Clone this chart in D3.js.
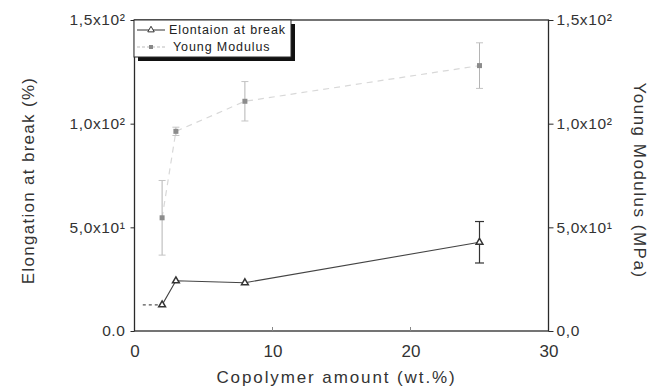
<!DOCTYPE html>
<html>
<head>
<meta charset="utf-8">
<script src="https://cdn.jsdelivr.net/npm/d3@7"></script>
<style>
  body { margin: 0; background: #fff; }
  svg { font-family: "Liberation Sans", Arial, sans-serif; }
</style>
</head>
<body>
<div id="chart"></div>
<script>
// data
var copolymer = [2, 3, 8, 25];
var elongation = [12.6, 24.2, 23.3, 42.8];
var elongationErr = [0, 0, 0, 10];
var modulus = [54.6, 96.3, 110.8, 128];
var modulusErr = [18, 2, 9.5, 11];
var elongStart = [0.6, 12.6];  // stub of line running in from the axis

var xTicks = [0, 10, 20, 30];
var yTicks = [0, 50, 100, 150];
var leftLabels = ["0.0", "5,0x10¹", "1,0x10²", "1,5x10²"];
var rightLabels = ["0,0", "5,0x10¹", "1,0x10²", "1,5x10²"];

var W = 661, H = 392;
var pL = 134.5, pR = 548.5, pT = 20, pB = 331;

var svg = d3.select('#chart').append('svg')
  .attr('width', W).attr('height', H);

var x = d3.scaleLinear().domain([0, 30]).range([pL, pR]);
var yL = d3.scaleLinear().domain([0, 150]).range([pB, pT]);
var yR = d3.scaleLinear().domain([0, 150]).range([pB, pT]);

var ink = '#2a2a2a';
var font = '"Liberation Sans", Arial, sans-serif';

// frame
svg.append('rect')
  .attr('x', pL).attr('y', pT)
  .attr('width', pR - pL).attr('height', pB - pT)
  .attr('fill', 'none').attr('stroke', ink).attr('stroke-width', 1.3);

// bottom axis
var xAxis = svg.append('g').attr('transform', 'translate(0,' + pB + ')')
  .call(d3.axisBottom(x).tickValues(xTicks).tickSize(0).tickPadding(14)
    .tickFormat(d3.format('d')));
xAxis.select('.domain').remove();
xAxis.selectAll('text').attr('font-size', 17).attr('fill', '#333')
  .attr('font-family', font);
svg.append('g').selectAll('line').data(xTicks.slice(1, 3)).enter().append('line')
  .attr('x1', function(d){ return x(d); }).attr('x2', function(d){ return x(d); })
  .attr('y1', pB).attr('y2', pB - 4)
  .attr('stroke', '#888').attr('stroke-width', 1);

// left axis
var yAxisL = svg.append('g').attr('transform', 'translate(' + pL + ',0)')
  .call(d3.axisLeft(yL).tickValues(yTicks).tickSize(4).tickPadding(5)
    .tickFormat(function(d, i){ return leftLabels[i]; }));
yAxisL.select('.domain').remove();
yAxisL.selectAll('line').attr('stroke', ink);
yAxisL.selectAll('text').attr('font-size', 15.5).attr('fill', '#333')
  .attr('letter-spacing', 0.6).attr('font-family', font);

// right axis
var yAxisR = svg.append('g').attr('transform', 'translate(' + pR + ',0)')
  .call(d3.axisRight(yR).tickValues(yTicks).tickSize(5).tickPadding(3)
    .tickFormat(function(d, i){ return rightLabels[i]; }));
yAxisR.select('.domain').remove();
yAxisR.selectAll('line').attr('stroke', ink);
yAxisR.selectAll('text').attr('font-size', 15.5).attr('fill', '#333')
  .attr('letter-spacing', 0.6).attr('font-family', font);

// axis titles
svg.append('text')
  .attr('transform', 'translate(34,' + ((pT + pB) / 2 + 5) + ') rotate(-90)')
  .attr('text-anchor', 'middle').attr('font-size', 17).attr('fill', '#333')
  .attr('letter-spacing', 1.3)
  .text('Elongation at break (%)');
svg.append('text')
  .attr('transform', 'translate(634,' + ((pT + pB) / 2 + 5) + ') rotate(90)')
  .attr('text-anchor', 'middle').attr('font-size', 17).attr('fill', '#333')
  .attr('letter-spacing', 1.5)
  .text('Young Modulus (MPa)');
svg.append('text')
  .attr('x', (pL + pR) / 2 - 5).attr('y', 383)
  .attr('text-anchor', 'middle').attr('font-size', 17).attr('fill', '#333')
  .attr('letter-spacing', 1.9)
  .text('Copolymer amount (wt.%)');

// Young modulus series (light grey)
var gray = '#b4b4b4';
var modPts = copolymer.map(function(c, i){ return [c, modulus[i], modulusErr[i]]; });
svg.append('path').datum(modPts)
  .attr('d', d3.line().x(function(d){ return x(d[0]); }).y(function(d){ return yR(d[1]); }))
  .attr('fill', 'none').attr('stroke', '#d8d8d8').attr('stroke-width', 1.2)
  .attr('stroke-dasharray', '6,5');
var modErr = svg.append('g').selectAll('g').data(modPts).enter().append('g');
modErr.append('line')
  .attr('x1', function(d){ return x(d[0]); }).attr('x2', function(d){ return x(d[0]); })
  .attr('y1', function(d){ return yR(d[1] + d[2]); })
  .attr('y2', function(d){ return yR(d[1] - d[2]); })
  .attr('stroke', gray).attr('stroke-width', 1);
modErr.selectAll('.cap').data(function(d){ return [[d[0], d[1] + d[2]], [d[0], d[1] - d[2]]]; })
  .enter().append('line')
  .attr('x1', function(d){ return x(d[0]) - 3.5; }).attr('x2', function(d){ return x(d[0]) + 3.5; })
  .attr('y1', function(d){ return yR(d[1]); }).attr('y2', function(d){ return yR(d[1]); })
  .attr('stroke', '#c4c4c4').attr('stroke-width', 1);
svg.append('g').selectAll('rect').data(modPts).enter().append('rect')
  .attr('x', function(d){ return x(d[0]) - 2.5; })
  .attr('y', function(d){ return yR(d[1]) - 2.5; })
  .attr('width', 5).attr('height', 5)
  .attr('fill', '#8c8c8c');

// Elongation series (dark, open markers)
var elPts = copolymer.map(function(c, i){ return [c, elongation[i], elongationErr[i]]; });
var lineEl = d3.line().x(function(d){ return x(d[0]); }).y(function(d){ return yL(d[1]); });
svg.append('path').datum([elongStart, elPts[0]])
  .attr('d', lineEl).attr('fill', 'none').attr('stroke', '#555')
  .attr('stroke-width', 1.1).attr('stroke-dasharray', '3,3');
svg.append('path').datum(elPts)
  .attr('d', lineEl).attr('fill', 'none').attr('stroke', '#444').attr('stroke-width', 1.1);
var elErr = svg.append('g').selectAll('g').data(elPts.filter(function(d){ return d[2] > 0; }))
  .enter().append('g');
elErr.append('line')
  .attr('x1', function(d){ return x(d[0]); }).attr('x2', function(d){ return x(d[0]); })
  .attr('y1', function(d){ return yL(d[1] + d[2]); })
  .attr('y2', function(d){ return yL(d[1] - d[2]); })
  .attr('stroke', '#333').attr('stroke-width', 1.2);
elErr.selectAll('.cap').data(function(d){ return [[d[0], d[1] + d[2]], [d[0], d[1] - d[2]]]; })
  .enter().append('line')
  .attr('x1', function(d){ return x(d[0]) - 4.5; }).attr('x2', function(d){ return x(d[0]) + 4.5; })
  .attr('y1', function(d){ return yL(d[1]); }).attr('y2', function(d){ return yL(d[1]); })
  .attr('stroke', '#333').attr('stroke-width', 1.2);
svg.append('g').selectAll('path').data(elPts).enter().append('path')
  .attr('transform', function(d){ return 'translate(' + x(d[0]) + ',' + yL(d[1]) + ')'; })
  .attr('d', d3.symbol().type(d3.symbolTriangle).size(20))
  .attr('fill', '#fff').attr('stroke', '#333').attr('stroke-width', 1.5);

// legend with drop shadow
var lx = 134, ly = 20, lw = 157, lh = 37;
svg.append('rect').attr('x', lx + 4).attr('y', ly + 4).attr('width', lw).attr('height', lh)
  .attr('fill', '#111');
svg.append('rect').attr('x', lx).attr('y', ly).attr('width', lw).attr('height', lh)
  .attr('fill', '#fff').attr('stroke', ink).attr('stroke-width', 1);
var leg = svg.append('g');
leg.append('line').attr('x1', lx + 3).attr('x2', lx + 31).attr('y1', ly + 10).attr('y2', ly + 10)
  .attr('stroke', '#333').attr('stroke-width', 1);
leg.append('path').attr('transform', 'translate(' + (lx + 17) + ',' + (ly + 10) + ')')
  .attr('d', d3.symbol().type(d3.symbolTriangle).size(18))
  .attr('fill', '#fff').attr('stroke', '#333').attr('stroke-width', 1);
leg.append('text').attr('x', lx + 35).attr('y', ly + 14).attr('font-size', 12.5)
  .attr('letter-spacing', 0.9).attr('fill', '#222').text('Elontaion at break');
leg.append('line').attr('x1', lx + 3).attr('x2', lx + 31).attr('y1', ly + 27).attr('y2', ly + 27)
  .attr('stroke', '#bbb').attr('stroke-width', 1).attr('stroke-dasharray', '3,2');
leg.append('rect').attr('x', lx + 15).attr('y', ly + 25).attr('width', 4).attr('height', 4)
  .attr('fill', '#888');
leg.append('text').attr('x', lx + 39).attr('y', ly + 31).attr('font-size', 12.5)
  .attr('letter-spacing', 0.9).attr('fill', '#222').text('Young Modulus');
</script>
</body>
</html>
